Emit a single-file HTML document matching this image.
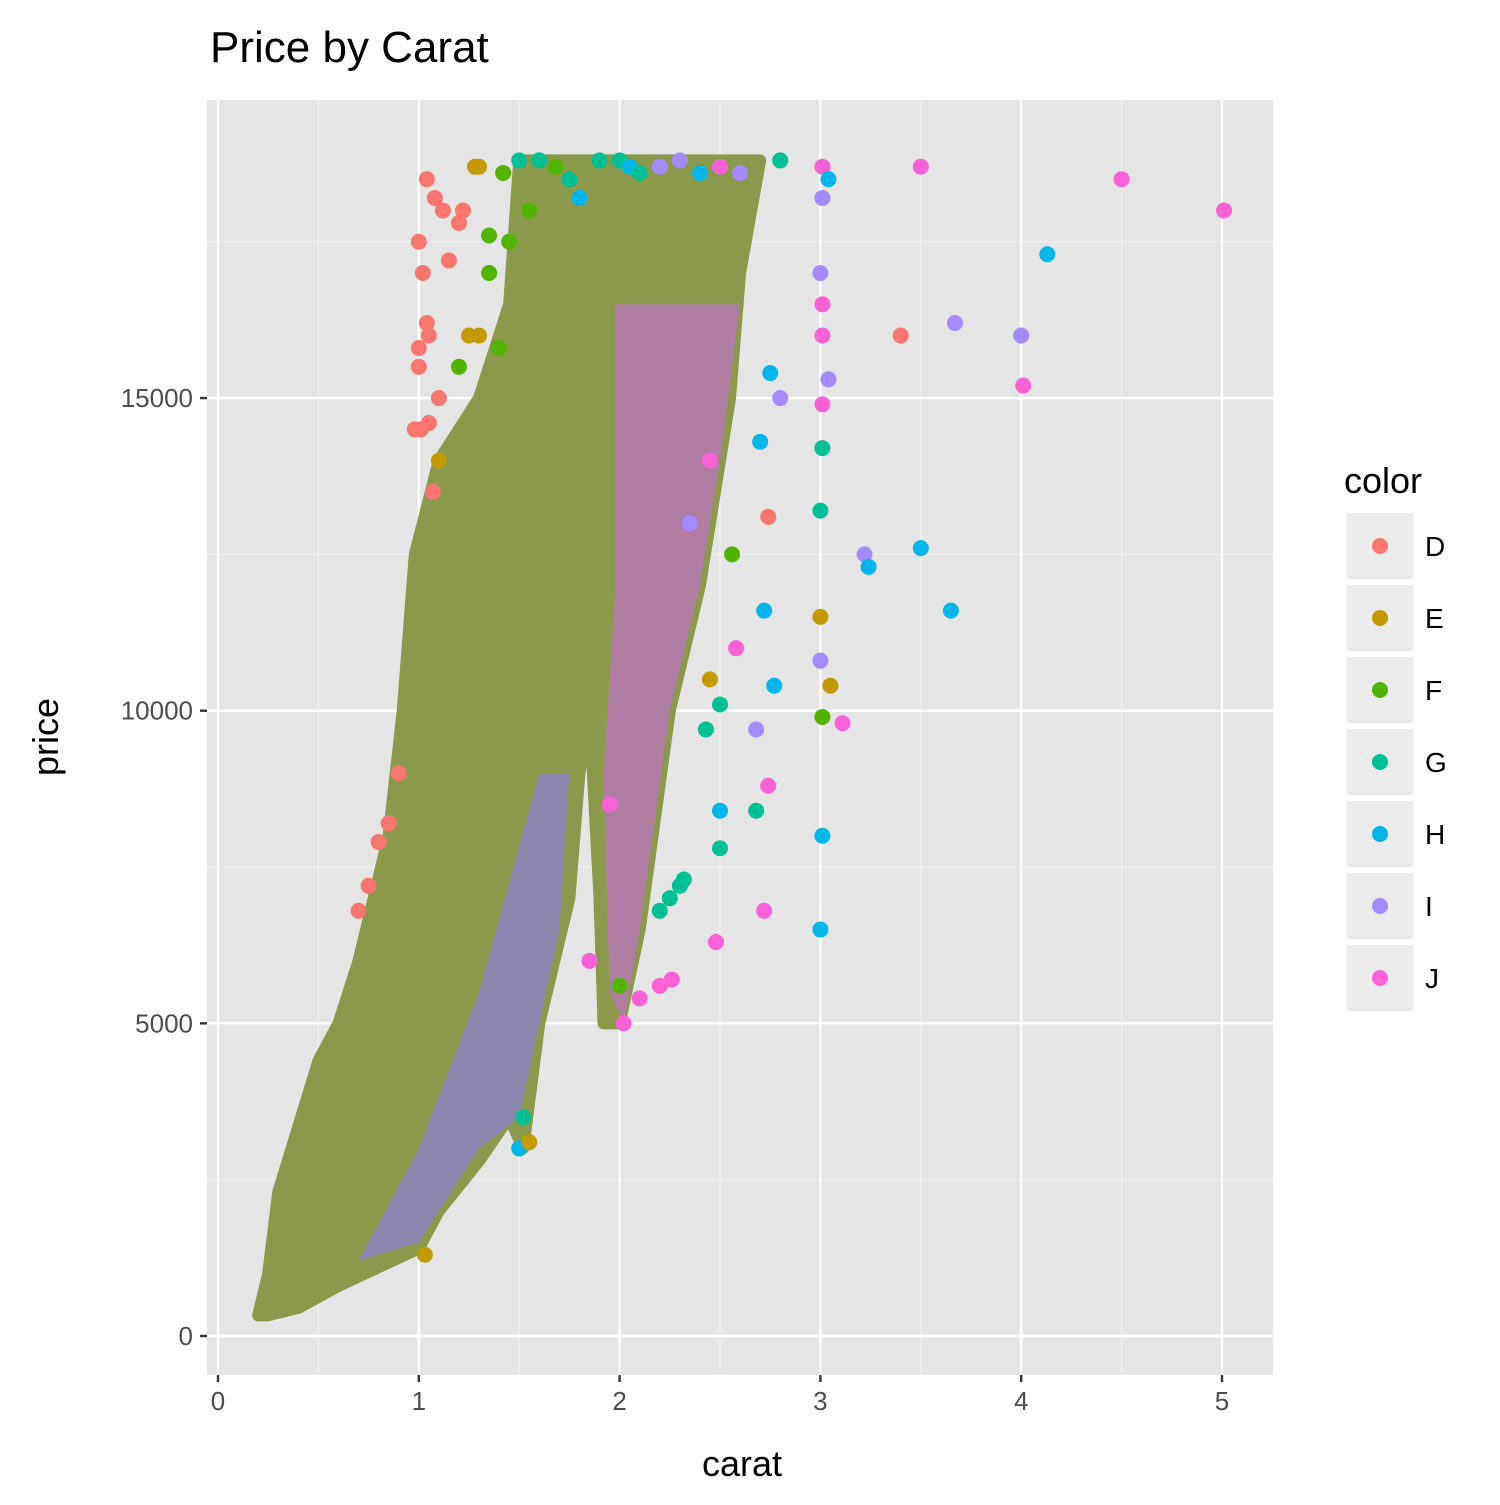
<!DOCTYPE html>
<html><head><meta charset="utf-8">
<style>
body{margin:0;background:#fff;}
svg text{font-family:"Liberation Sans",Arial,sans-serif;}
</style></head>
<body>
<svg id="chart" width="1500" height="1500" xmlns="http://www.w3.org/2000/svg">
<rect width="1500" height="1500" fill="#fff"/>
<text x="210" y="62" font-size="44" fill="#000">Price by Carat</text>
<rect x="207" y="100" width="1066" height="1275" fill="#e5e5e5"/>
<g id="grid"></g>
<g id="mass"></g>
<g id="pts"></g>
<g id="axes"></g>
<text x="742" y="1476" font-size="36" text-anchor="middle">carat</text>
<text transform="translate(58,737) rotate(-90)" font-size="36" text-anchor="middle">price</text>
<g id="legend">
<text x="1344" y="493" font-size="36">color</text>
</g>
</svg>
<script>
const xTicks=[0,1,2,3,4,5];
const yTicks=[0,5000,10000,15000];
const colorLevels=['D','E','F','G','H','I','J'];
const colorHex=['#F8766D','#C49A00','#53B400','#00C094','#00B6EB','#A58AFF','#FB61D7'];
// envelope of dense cloud (carat, price)
const envCarat=[0.2,0.25,0.3,0.5,0.6,0.7,0.85,0.92,0.98,1.1,1.3,1.45,1.5,2.7,2.6,2.55,2.4,2.25,2.1,2.0,1.92,1.9,1.85,1.8,1.75,1.6,1.52,1.45,1.3,1.1,1.0,0.8,0.6,0.4,0.25];
const envPrice=[330,1000,2300,4400,5000,6000,8000,10000,12500,14000,15000,16500,18800,18800,17000,15000,12000,10000,6500,5000,5000,7000,10000,9000,7000,5000,3000,3500,2800,2000,1400,1100,800,450,330];
const env2Carat=[1.98,2.6,2.5,2.4,2.25,2.1,2.02,1.95,1.92,1.98];
const env2Price=[16500,16500,14000,12000,10000,6500,5000,5500,9000,12000];
const env3Carat=[0.7,1.0,1.3,1.5,1.6,1.7,1.75,1.6,1.3,1.0];
const env3Price=[1200,1500,3000,3500,5000,6500,9000,9000,5500,3000];
// hand-read points
const ptCarat=[3.01,3.5,4.5,5.01,4.13,3.4,3.67,4.0,4.01,3.04,2.8,2.75,3.01,3.01,3.0,2.74,3.22,3.5,3.24,3.65,3.0,2.72,3.0,3.05,2.77,3.01,3.11,2.68,2.74,3.01,2.72,3.0,2.48,2.5,2.68,2.5,2.5,2.43,2.45,3.01,3.04,3.0,3.01,3.01,2.7,2.56,2.58,1.03,2.02,2.1,2.2,2.26,2.0,2.2,2.25,2.3,2.32,
1.04,1.08,1.12,1.2,1.28,1.35,1.42,1.5,1.55,1.6,1.68,1.75,1.8,1.9,2.0,2.05,2.1,2.2,2.3,2.4,2.5,2.6,2.8,1.05,1.1,1.0,0.98,0.9,0.85,0.8,0.75,0.7,1.5,1.52,1.55,1.85,1.95,2.35,2.45,
1.0,1.02,1.04,1.0,1.05,1.01,1.1,1.15,1.25,1.2,1.3,1.35,1.4,1.07,1.22,1.3,1.45];
const ptPrice=[18700,18700,18500,18000,17300,16000,16200,16000,15200,15300,15000,15400,14900,14200,13200,13100,12500,12600,12300,11600,11500,11600,10800,10400,10400,9900,9800,9700,8800,8000,6800,6500,6300,7800,8400,8400,10100,9700,10500,18200,18500,17000,16500,16000,14300,12500,11000,1300,5000,5400,5600,5700,5600,6800,7000,7200,7300,
18500,18200,18000,17800,18700,17600,18600,18800,18000,18800,18700,18500,18200,18800,18800,18700,18600,18700,18800,18600,18700,18600,18800,16000,15000,15800,14500,9000,8200,7900,7200,6800,3000,3500,3100,6000,8500,13000,14000,
17500,17000,16200,15500,14600,14500,14000,17200,16000,15500,16000,17000,15800,13500,18000,18700,17500];
const ptColor=['J','J','J','J','H','D','I','I','J','I','I','H','J','G','G','D','I','H','H','H','E','H','I','E','H','F','J','I','J','H','J','H','J','G','G','H','G','G','E','I','H','I','J','J','H','F','J','E','J','J','J','J','F','G','G','G','G',
'D','D','D','D','E','F','F','G','F','G','F','G','H','G','G','H','G','I','I','H','J','I','G','D','D','D','D','D','D','D','D','D','H','G','E','J','J','I','J',
'D','D','D','D','D','D','E','D','E','F','E','F','F','D','D','E','F'];

const NS='http://www.w3.org/2000/svg';
const xs=c=>218+c*200.8;
const ys=p=>1336-p*0.06253;
function mk(tag,attrs,parent){const e=document.createElementNS(NS,tag);for(const k in attrs)e.setAttribute(k,attrs[k]);parent.appendChild(e);return e;}
const grid=document.getElementById('grid');
for(let v=0.5;v<5.3;v+=1){const l=mk('line',{x1:xs(v),x2:xs(v),y1:100,y2:1375,stroke:'#f2f2f2','stroke-width':1.2},grid);

}
for(let v=2500;v<19000;v+=5000){const l=mk('line',{x1:207,x2:1273,y1:ys(v),y2:ys(v),stroke:'#f2f2f2','stroke-width':1.2},grid);

}
const axes=document.getElementById('axes');
xTicks.forEach(t=>{const l=mk('line',{x1:xs(t),x2:xs(t),y1:100,y2:1375,stroke:'#fff','stroke-width':2.4},grid);


mk('line',{x1:xs(t),x2:xs(t),y1:1375,y2:1382,stroke:'#333','stroke-width':2.4},axes);
const tx=mk('text',{x:xs(t),y:1410,'font-size':26,'text-anchor':'middle',fill:'#4d4d4d'},axes);tx.textContent=t;

});
yTicks.forEach(t=>{const l=mk('line',{x1:207,x2:1273,y1:ys(t),y2:ys(t),stroke:'#fff','stroke-width':2.4},grid);


mk('line',{x1:200,x2:207,y1:ys(t),y2:ys(t),stroke:'#333','stroke-width':2.4},axes);
const tx=mk('text',{x:193,y:ys(t)+9,'font-size':26,'text-anchor':'end',fill:'#4d4d4d'},axes);tx.textContent=t;

});
const mass=document.getElementById('mass');
const p1=mk('polygon',{points:envCarat.map((c,i)=>xs(c)+','+ys(envPrice[i])).join(' '),fill:'#8a9a4a',stroke:'#8a9a4a','stroke-width':12,'stroke-linejoin':'round'},mass);


const p2=mk('polygon',{points:env2Carat.map((c,i)=>xs(c)+','+ys(env2Price[i])).join(' '),fill:'#c070c8',opacity:0.7},mass);


const p3=mk('polygon',{points:env3Carat.map((c,i)=>xs(c)+','+ys(env3Price[i])).join(' '),fill:'#8c7fd0',opacity:0.75},mass);


const pts=document.getElementById('pts');
ptCarat.forEach((c,i)=>{const ci=colorLevels.indexOf(ptColor[i]);
const e=mk('circle',{cx:xs(c),cy:ys(ptPrice[i]),r:8,fill:colorHex[ci]},pts);

});
const lg=document.getElementById('legend');
colorLevels.forEach((lv,i)=>{const y=513+i*72;
const r=mk('rect',{x:1347,y:y,width:66,height:66,fill:'#ebebeb'},lg);


mk('circle',{cx:1380,cy:y+33,r:8,fill:colorHex[i]},lg);
const t=mk('text',{x:1425,y:y+43,'font-size':28},lg);t.textContent=lv;

});
</script>
</body></html>
